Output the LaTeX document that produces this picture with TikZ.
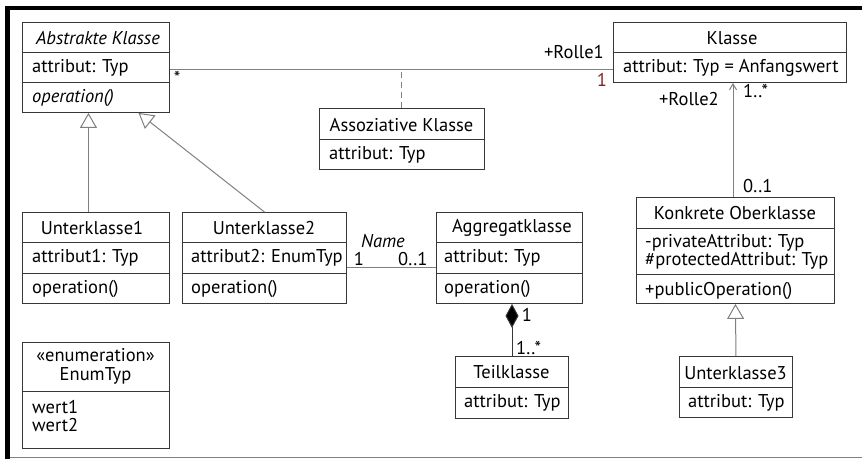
\documentclass[tikz,border=0pt]{standalone}
\usepackage{fontspec}
\setmainfont{PT Sans}
\usetikzlibrary{arrows.meta}

\definecolor{boxgray}{RGB}{55,55,55}
\definecolor{linegray}{RGB}{128,128,128}
\definecolor{multred}{RGB}{130,35,30}

\tikzset{
  cls/.style={draw=boxgray, line width=0.9pt, fill=white, anchor=north west, inner sep=0pt},
  rowline/.style={draw=boxgray, line width=0.9pt},
  title/.style={font=\fontsize{18.5}{19}\selectfont, inner sep=0pt, align=center},
  member/.style={font=\fontsize{18.5}{18.5}\selectfont, inner sep=0pt, anchor=west, align=left},
  mult/.style={font=\fontsize{18.5}{19}\selectfont, inner sep=0pt},
  assoc/.style={draw=linegray, line width=1pt},
  gen/.style={draw=linegray, line width=1pt, -{Triangle[open, length=15pt, width=17pt, fill=white]}},
  nav/.style={draw=linegray, line width=1pt, -{Straight Barb[length=6pt, width=7pt]}},
  comp/.style={draw=boxgray, line width=1pt, -{Diamond[length=24pt, width=13pt, fill=black]}},
}

\begin{document}
\begin{tikzpicture}[x=1pt, y=-1pt]
  \useasboundingbox (0,0) rectangle (862,459);
  % frame
  \fill[black] (5,6) rectangle (862,10);
  \fill[black] (5,6) rectangle (10,459);
  \draw[linegray, line width=0.8pt] (10,457.5) -- (862,457.5);

  % Abstrakte Klasse
  \node[cls, minimum width=147pt, minimum height=90pt] (abstr) at (22,22) {};
  \draw[rowline] (22,52) -- (169,52);
  \draw[rowline] (22,82) -- (169,82);
  \node[title] (abstrName) at (98,38) {\itshape Abstrakte Klasse};
  \node[member] (abstrAttr) at (32,68) {attribut: Typ};
  \node[member] (abstrOp) at (32,98) {\itshape operation()};

  % Klasse
  \node[cls, minimum width=233pt, minimum height=60pt] (klasse) at (613,22) {};
  \draw[rowline] (613,52) -- (846,52);
  \node[title] (klasseName) at (732,38) {Klasse};
  \node[member] (klasseAttr) at (623,68) {attribut: Typ = Anfangswert};

  % Assoziative Klasse
  \node[cls, minimum width=165pt, minimum height=61pt] (assoz) at (319,108) {};
  \draw[rowline] (319,139) -- (484,139);
  \node[title] (assozName) at (401.5,125) {Assoziative Klasse};
  \node[member] (assozAttr) at (329,155) {attribut: Typ};

  % Unterklasse1
  \node[cls, minimum width=147pt, minimum height=91pt] (sub1) at (22,212) {};
  \draw[rowline] (22,242) -- (169,242);
  \draw[rowline] (22,273) -- (169,273);
  \node[title] (sub1Name) at (92,228) {Unterklasse1};
  \node[member] (sub1Attr) at (32,258) {attribut1: Typ};
  \node[member] (sub1Op) at (32,289) {operation()};

  % Unterklasse2
  \node[cls, minimum width=164pt, minimum height=91pt] (sub2) at (182,212) {};
  \draw[rowline] (182,242) -- (346,242);
  \draw[rowline] (182,273) -- (346,273);
  \node[title] (sub2Name) at (264,228) {Unterklasse2};
  \node[member] (sub2Attr) at (191,258) {attribut2: EnumTyp};
  \node[member] (sub2Op) at (191,289) {operation()};

  % Aggregatklasse
  \node[cls, minimum width=146pt, minimum height=91pt] (aggr) at (436,212) {};
  \draw[rowline] (436,242) -- (582,242);
  \draw[rowline] (436,273) -- (582,273);
  \node[title] (aggrName) at (512,228) {Aggregatklasse};
  \node[member] (aggrAttr) at (444,258) {attribut: Typ};
  \node[member] (aggrOp) at (444,289) {operation()};

  % Teilklasse
  \node[cls, minimum width=113pt, minimum height=62pt] (teil) at (455,356) {};
  \draw[rowline] (455,387) -- (568,387);
  \node[title] (teilName) at (511.5,372) {Teilklasse};
  \node[member] (teilAttr) at (464,403) {attribut: Typ};

  % Konkrete Oberklasse
  \node[cls, minimum width=198pt, minimum height=106pt] (konkret) at (636,197) {};
  \draw[rowline] (636,228) -- (834,228);
  \draw[rowline] (636,274) -- (834,274);
  \node[title] (konkretName) at (735,213) {Konkrete Oberklasse};
  \node[member] (konkretAttr) at (645,252) {-privateAttribut: Typ\\\#protectedAttribut: Typ};
  \node[member] (konkretOp) at (645,291) {+publicOperation()};

  % Unterklasse3
  \node[cls, minimum width=113pt, minimum height=61pt] (sub3) at (679,356) {};
  \draw[rowline] (679,387) -- (792,387);
  \node[title] (sub3Name) at (735.5,373) {Unterklasse3};
  \node[member] (sub3Attr) at (688,403) {attribut: Typ};

  % EnumTyp
  \node[cls, minimum width=147pt, minimum height=106pt] (enum) at (22,342) {};
  \draw[rowline] (22,391) -- (169,391);
  \node[title] (enumName) at (95.5,366) {«enumeration»\\EnumTyp};
  \node[member] (enumValues) at (32,416) {wert1\\wert2};

  % Verbindungen
  \coordinate (assocY) at (0,69);
  \coordinate (nameY) at (0,267);
  \coordinate (navX) at (733,0);
  \coordinate (compX) at (512,0);
  \draw[assoc] (abstr.east |- assocY) -- (klasse.west |- assocY);
  \draw[assoc, dashed, dash pattern=on 6pt off 4pt] (assoz.north) -- (assoz.north |- assocY);
  \draw[gen] ([xshift=-7.5pt]sub1.north) -- ([xshift=-7.5pt]abstr.south);
  \draw[gen] (sub2.north) -- ([xshift=42.5pt]abstr.south);
  \draw[assoc] (sub2.east |- nameY) -- (aggr.west |- nameY);
  \draw[comp] (teil.north -| compX) -- (aggr.south -| compX);
  \draw[nav] (konkret.north -| navX) -- (klasse.south -| navX);
  \draw[gen] (sub3.north) -- (konkret.south);

  % Rollen und Multiplizitaeten
  \node[mult] (multStar) at (177,78) {*};
  \node[mult, anchor=east] (rolle1) at (604,52) {+Rolle1};
  \node[mult, text=multred] (multOne) at (602,80) {1};
  \node[mult, anchor=east] (rolle2) at (719,99) {+Rolle2};
  \node[mult, anchor=west] (multMany) at (743,91) {1..*};
  \node[mult, anchor=west] (multOpt) at (743,186) {0..1};
  \node[mult, anchor=west] (assocName) at (361,241) {\itshape Name};
  \node[mult] (nameOne) at (359,259) {1};
  \node[mult, anchor=west] (nameOpt) at (398,259) {0..1};
  \node[mult] (compOne) at (527,315) {1};
  \node[mult, anchor=west] (compMany) at (516,348) {1..*};
\end{tikzpicture}
\end{document}
